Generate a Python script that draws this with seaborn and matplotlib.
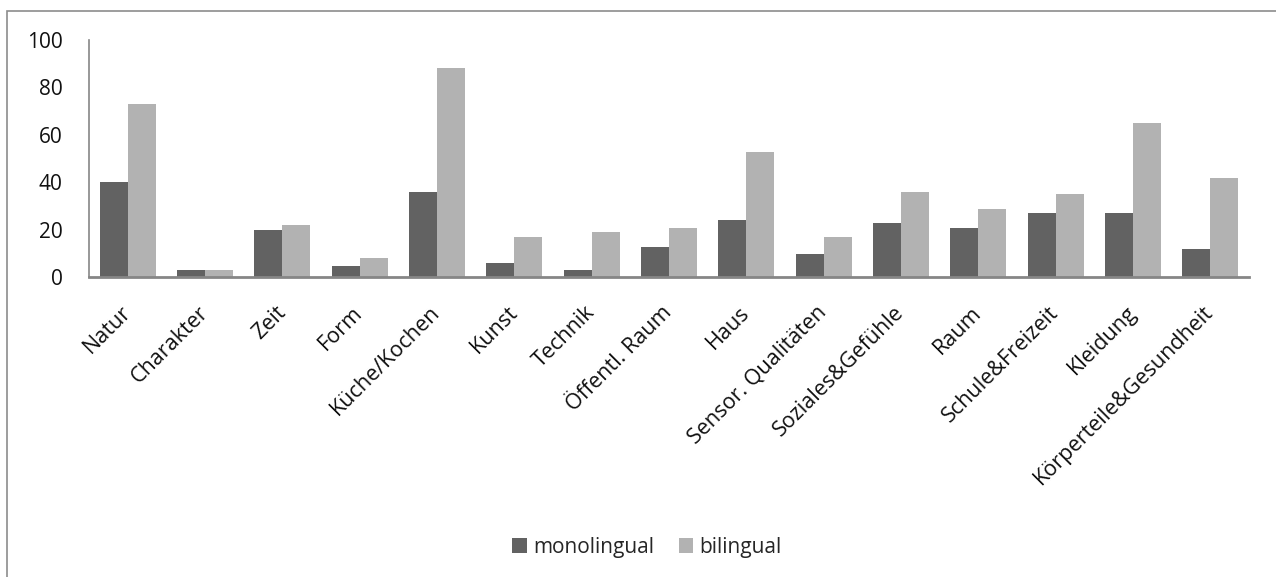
import matplotlib
matplotlib.use("Agg")
import matplotlib.pyplot as plt
import seaborn as sns
import pandas as pd
from matplotlib.patches import Rectangle

categories = ["Natur", "Charakter", "Zeit", "Form", "Küche/Kochen", "Kunst", "Technik",
              "Öffentl. Raum", "Haus", "Sensor. Qualitäten", "Soziales&Gefühle", "Raum",
              "Schule&Freizeit", "Kleidung", "Körperteile&Gesundheit"]
monolingual = [40, 3, 20, 5, 36, 6, 3, 13, 24, 10, 23, 21, 27, 27, 12]
bilingual = [73, 3, 22, 8, 88, 17, 19, 21, 53, 17, 36, 29, 35, 65, 42]
series_names = ["monolingual", "bilingual"]
y_ticks = [0, 20, 40, 60, 80, 100]

df = pd.DataFrame({
    "Kategorie": categories * 2,
    "Wert": monolingual + bilingual,
    "Gruppe": [series_names[0]] * len(categories) + [series_names[1]] * len(categories),
})

sns.set_theme(style="white")
plt.rcParams["font.family"] = ["Open Sans", "DejaVu Sans"]

fig = plt.figure(figsize=(12.76, 5.77), dpi=100)
W, H = 1276, 577
ax = fig.add_axes([89 / W, 1 - 277.5 / H, (1249 - 89) / W, (277.5 - 40) / H])

sns.barplot(data=df, x="Kategorie", y="Wert", hue="Gruppe", order=categories,
            hue_order=series_names, palette=["#626262", "#b2b2b2"], width=0.725,
            edgecolor="none", linewidth=0, saturation=1, ax=ax)

ax.set_ylim(0, 100)
ax.set_xlim(-0.5, len(categories) - 0.5)
ax.set_yticks(y_ticks)
ax.set_yticklabels([str(v) for v in y_ticks], fontsize=15, color="#111111")
ax.set_xticks(range(len(categories)))
ax.set_xticklabels(categories, rotation=45, ha="right", va="center",
                   rotation_mode="anchor", fontsize=15.5, color="#111111")
ax.tick_params(axis="both", length=0)
ax.tick_params(axis="y", pad=19)
ax.tick_params(axis="x", pad=23)
ax.set_xlabel("")
ax.set_ylabel("")

for side in ["top", "right"]:
    ax.spines[side].set_visible(False)
ax.spines["left"].set_color("#868686")
ax.spines["left"].set_linewidth(1.2)
ax.spines["bottom"].set_color("#868686")
ax.spines["bottom"].set_linewidth(2)

leg = ax.legend(loc="center", bbox_to_anchor=(647 / W, 1 - 547 / H),
                bbox_transform=fig.transFigure, ncol=2, frameon=False, fontsize=15,
                handlelength=0.7, handleheight=0.7, handletextpad=0.3,
                columnspacing=1.2)

# figure border (Excel chart area)
fig.add_artist(Rectangle((6.5 / W, -0.05), 1.2, 1 - 10.5 / H + 0.05,
                         transform=fig.transFigure, fill=False,
                         edgecolor="#8c8c8c", linewidth=1.2))

fig.savefig("out.png", dpi=100)
